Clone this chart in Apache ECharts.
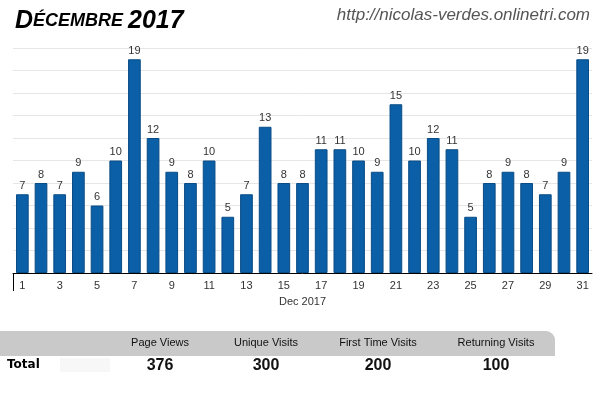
<!DOCTYPE html>
<html>
<head>
<meta charset="utf-8">
<script src="https://cdn.jsdelivr.net/npm/echarts@6/dist/echarts.min.js"></script>
<style>
  html, body { margin: 0; padding: 0; background: #fff; }
  #main { width: 600px; height: 397px; }
</style>
</head>
<body>
<div id="main"></div>
<script>
// visites par jour, decembre 2017
var days = [];
for (var d = 1; d <= 31; d++) days.push(String(d));
var visits = [7, 8, 7, 9, 6, 10, 19, 12, 9, 8, 10, 5, 7, 13, 8, 8, 11, 11, 10, 9, 15, 10, 12, 11, 5, 8, 9, 8, 7, 9, 19];

// tableau des totaux
var totalHeaders = ['Page Views', 'Unique Visits', 'First Time Visits', 'Returning Visits'];
var totalValues = [376, 300, 200, 100];
var colX = [160, 266, 378, 496];

var myChart = echarts.init(document.getElementById('main'));

var graphics = [
	// petit trait sous l'axe a gauche
	{
		type: 'line',
		shape: { x1: 13.5, y1: 273, x2: 13.5, y2: 291 },
		style: { stroke: '#000', lineWidth: 1 }
	},
	// bandeau gris de l'entete
	{
		type: 'rect',
		shape: { x: 0, y: 331, width: 555, height: 25, r: [0, 9, 0, 0] },
		style: { fill: '#c9c9c9' }
	},
	{
		type: 'rect',
		shape: { x: 60, y: 358, width: 50, height: 14 },
		style: { fill: '#f7f7f7' }
	},
	{
		type: 'text',
		left: 7, top: 359,
		style: { text: 'Total', font: 'bold 12px "DejaVu Sans"', fill: '#000' }
	},
	// titre
	{
		type: 'text',
		left: 15, top: 9,
		style: {
			text: '{a|D}{b|ÉCEMBRE }{a|2017}',
			rich: {
				a: { font: 'italic bold 25px "Liberation Sans"', fill: '#000' },
				b: { font: 'italic bold 18px "Liberation Sans"', fill: '#000' }
			}
		}
	},
	{
		type: 'text',
		right: 10, top: 7,
		style: { text: 'http://nicolas-verdes.onlinetri.com', font: 'italic 17px "Liberation Sans"', fill: '#555' }
	}
];

for (var i = 0; i < totalHeaders.length; i++) {
	graphics.push({
		type: 'text',
		x: colX[i], y: 343,
		style: { text: totalHeaders[i], font: '11px "Liberation Sans"', fill: '#111', align: 'center', verticalAlign: 'middle' }
	});
	graphics.push({
		type: 'text',
		x: colX[i], y: 366,
		style: { text: String(totalValues[i]), font: 'bold 16px "Liberation Sans"', fill: '#111', align: 'center', verticalAlign: 'middle' }
	});
}

var option = {
	animation: false,
	grid: { left: 13, right: 8, top: 48, bottom: 124 },
	xAxis: {
		type: 'category',
		data: days,
		name: 'Dec 2017',
		nameLocation: 'middle',
		nameGap: 23,
		nameTextStyle: { fontSize: 11, color: '#333', fontFamily: 'Liberation Sans' },
		axisLine: { lineStyle: { color: '#000', width: 1 } },
		axisTick: { show: false },
		axisLabel: { interval: 1, fontSize: 11, color: '#333', margin: 7, fontFamily: 'Liberation Sans' }
	},
	yAxis: {
		type: 'value',
		min: 0,
		max: 20,
		interval: 2,
		axisLabel: { show: false },
		axisLine: { show: false },
		axisTick: { show: false },
		splitLine: { lineStyle: { color: '#e6e6e6', width: 1 } }
	},
	series: [{
		type: 'bar',
		data: visits,
		barCategoryGap: '32%',
		itemStyle: { color: '#0b5fa6', borderColor: '#0a4c86', borderWidth: 1 },
		label: { show: true, position: 'top', distance: 3, fontSize: 11, color: '#333', fontFamily: 'Liberation Sans' }
	}],
	graphic: graphics
};

myChart.setOption(option);
</script>
</body>
</html>
